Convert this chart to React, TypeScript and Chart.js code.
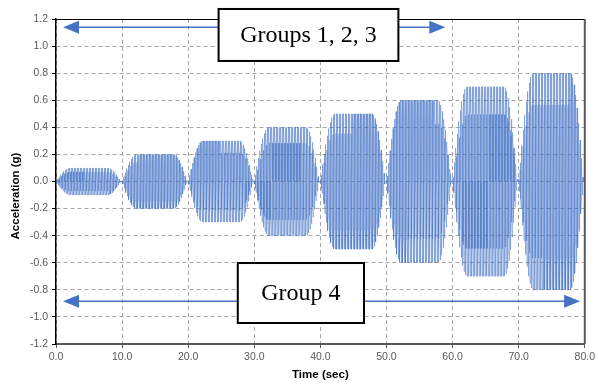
import React, { useEffect, useRef } from "react";
import { Chart, registerables } from "chart.js";

Chart.register(...registerables);

// ---- Data ----
const groupAmplitudes = [0.1, 0.2, 0.3, 0.4, 0.5, 0.6, 0.7, 0.8]; // g
const groupStartTimes = [0, 10, 20, 30, 40, 50, 60, 70]; // sec
const rampUpSec = 2.2;
const holdSec = 5.6;
const rampDownSec = 2.0;
const signalFrequencyHz = 4.4167;
const samplesPerCycle = 8;

const xTickValues = [0, 10, 20, 30, 40, 50, 60, 70, 80];
const yTickValues = [-1.2, -1.0, -0.8, -0.6, -0.4, -0.2, 0.0, 0.2, 0.4, 0.6, 0.8, 1.0, 1.2];

const xAxisTitle = "Time (sec)";
const yAxisTitle = "Acceleration (g)";

// Annotation arrows / labels (data units)
const upperLabel = "Groups 1, 2, 3";
const upperArrow = { y: 1.14, from: 1.06, to: 58.9 };
const upperBox = { x1: 24.6, x2: 51.8, y1: 1.274, y2: 0.89 };
const lowerLabel = "Group 4";
const lowerArrow = { y: -0.885, from: 1.06, to: 79.3 };
const lowerBox = { x1: 27.5, x2: 46.6, y1: -0.602, y2: -1.045 };

function buildSignal() {
  const pts: { x: number; y: number }[] = [];
  const dt = 1 / (signalFrequencyHz * samplesPerCycle);
  const tEnd = xTickValues[xTickValues.length - 1];
  const dur = rampUpSec + holdSec + rampDownSec;
  for (let i = 0; i * dt <= tEnd + 1e-9; i++) {
    const t = i * dt;
    let amp = 0;
    groupStartTimes.forEach((s, g) => {
      const u = t - s;
      if (u < 0 || u > dur) return;
      let e = 1;
      if (u < rampUpSec) e = Math.sin((Math.PI / 2) * (u / rampUpSec));
      else if (u > rampUpSec + holdSec) e = Math.sin((Math.PI / 2) * ((dur - u) / rampDownSec));
      amp = groupAmplitudes[g] * e;
    });
    pts.push({ x: t, y: amp * Math.sin(2 * Math.PI * signalFrequencyHz * t) });
  }
  return pts;
}

const BLUE = "#4472C4";
const TICK_FONT = { family: "'Liberation Sans', Arial, sans-serif", size: 10.5 };

const overlayPlugin = {
  id: "overlay",
  afterDraw(chart: any) {
    const { ctx, chartArea, scales } = chart;
    const xs = scales.x;
    const ys = scales.y;
    ctx.save();
    // frame: top and right
    ctx.strokeStyle = "#000";
    ctx.lineWidth = 1;
    ctx.beginPath();
    ctx.moveTo(chartArea.left, Math.round(chartArea.top) + 0.5);
    ctx.lineTo(chartArea.right, Math.round(chartArea.top) + 0.5);
    ctx.stroke();
    ctx.strokeStyle = "#595959";
    ctx.lineWidth = 2;
    ctx.beginPath();
    ctx.moveTo(chartArea.right, chartArea.top);
    ctx.lineTo(chartArea.right, chartArea.bottom);
    ctx.stroke();

    const drawArrow = (a: { y: number; from: number; to: number }) => {
      const y = ys.getPixelForValue(a.y);
      const x1 = xs.getPixelForValue(a.from);
      const x2 = xs.getPixelForValue(a.to);
      const hl = 16;
      const hw = 6.5;
      ctx.strokeStyle = BLUE;
      ctx.fillStyle = BLUE;
      ctx.lineWidth = 1.5;
      ctx.beginPath();
      ctx.moveTo(x1 + hl - 1, y);
      ctx.lineTo(x2 - hl + 1, y);
      ctx.stroke();
      ctx.beginPath();
      ctx.moveTo(x1, y);
      ctx.lineTo(x1 + hl, y - hw);
      ctx.lineTo(x1 + hl, y + hw);
      ctx.closePath();
      ctx.fill();
      ctx.beginPath();
      ctx.moveTo(x2, y);
      ctx.lineTo(x2 - hl, y - hw);
      ctx.lineTo(x2 - hl, y + hw);
      ctx.closePath();
      ctx.fill();
    };
    const drawBox = (b: { x1: number; x2: number; y1: number; y2: number }, label: string) => {
      const l = xs.getPixelForValue(b.x1);
      const r = xs.getPixelForValue(b.x2);
      const t = ys.getPixelForValue(b.y1);
      const btm = ys.getPixelForValue(b.y2);
      ctx.fillStyle = "#fff";
      ctx.fillRect(l, t, r - l, btm - t);
      ctx.strokeStyle = "#000";
      ctx.lineWidth = 2;
      ctx.strokeRect(l, t, r - l, btm - t);
      ctx.fillStyle = "#000";
      ctx.font = "24px 'Liberation Serif', 'Times New Roman', serif";
      ctx.textAlign = "center";
      ctx.textBaseline = "middle";
      ctx.fillText(label, (l + r) / 2, (t + btm) / 2 + 1);
    };
    drawArrow(upperArrow);
    drawArrow(lowerArrow);
    drawBox(upperBox, upperLabel);
    drawBox(lowerBox, lowerLabel);

    // axis titles
    ctx.fillStyle = "#000";
    ctx.font = "bold 11.5px 'Liberation Sans', Arial, sans-serif";
    ctx.textAlign = "center";
    ctx.textBaseline = "middle";
    ctx.fillText(xAxisTitle, (chartArea.left + chartArea.right) / 2, 375);
    ctx.translate(16, 196);
    ctx.rotate(-Math.PI / 2);
    ctx.fillText(yAxisTitle, 0, 0);
    ctx.restore();
  },
};

export default function App() {
  const ref = useRef<HTMLCanvasElement>(null);
  useEffect(() => {
    document.body.style.margin = "0";
    const canvas = ref.current!;
    const chart = new Chart(canvas, {
      type: "line",
      data: {
        datasets: [
          {
            data: buildSignal(),
            borderColor: "rgba(68,114,196,0.75)",
            borderWidth: 0.6,
            pointRadius: 0,
            tension: 0,
            fill: false,
          },
        ],
      },
      options: {
        animation: false,
        responsive: false,
        devicePixelRatio: 1,
        parsing: false,
        layout: { padding: { top: 19, right: 12, left: 0, bottom: 0 } },
        plugins: { legend: { display: false }, tooltip: { enabled: false } },
        scales: {
          x: {
            type: "linear",
            min: xTickValues[0],
            max: xTickValues[xTickValues.length - 1],
            afterBuildTicks: (s: any) => {
              s.ticks = xTickValues.map((v) => ({ value: v }));
            },
            afterFit: (s: any) => {
              s.height = 41;
            },
            ticks: {
              callback: (v: any) => Number(v).toFixed(1),
              font: TICK_FONT,
              color: "#595959",
              padding: 3,
              maxRotation: 0,
              autoSkip: false,
            },
            grid: { color: "#A6A6A6", lineWidth: 1, tickLength: 4, tickColor: "#595959" },
            border: { color: "#595959", width: 2, dash: [4, 3] },
          },
          y: {
            type: "linear",
            min: yTickValues[0],
            max: yTickValues[yTickValues.length - 1],
            afterBuildTicks: (s: any) => {
              s.ticks = yTickValues.map((v) => ({ value: v }));
            },
            afterFit: (s: any) => {
              s.width = 56;
            },
            ticks: {
              callback: (v: any) => Number(v).toFixed(1),
              font: TICK_FONT,
              color: "#595959",
              padding: 4,
              autoSkip: false,
            },
            grid: { color: "#A6A6A6", lineWidth: 1, tickLength: 4, tickColor: "#000" },
            border: { color: "#000", width: 1.5, dash: [4, 3] },
          },
        },
      },
      plugins: [overlayPlugin],
    } as any);
    return () => chart.destroy();
  }, []);
  return (
    <div style={{ position: "absolute", left: 0, top: 0, width: 598, height: 385, background: "#fff" }}>
      <canvas ref={ref} width={598} height={385} style={{ display: "block" }} />
    </div>
  );
}
